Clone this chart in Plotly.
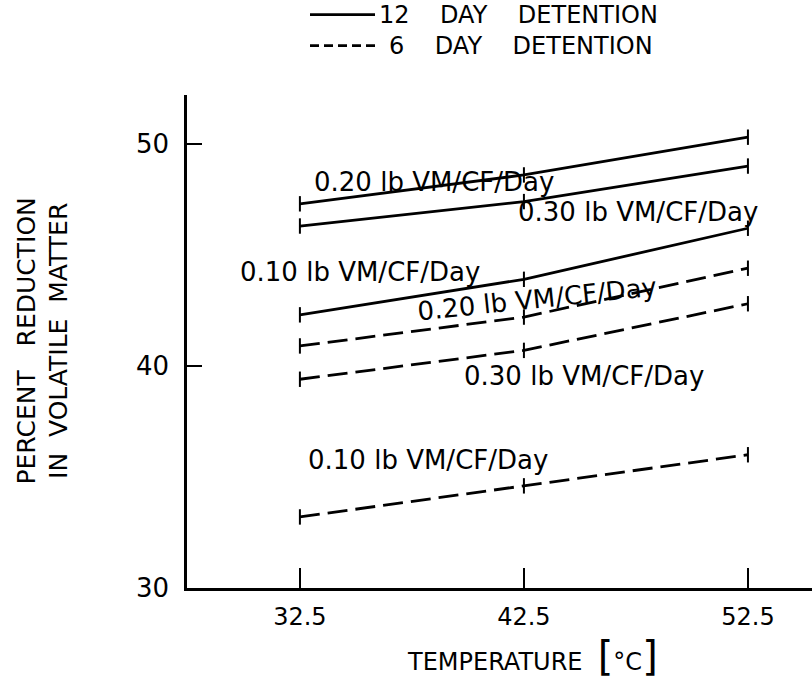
import plotly.graph_objects as go

# Digester temperature (°C) and percent reduction in volatile matter
temperature = [32.5, 42.5, 52.5]

# 12-day detention time, by loading rate (lb VM/CF/Day)
d12_load_020 = [47.3, 48.6, 50.3]
d12_load_030 = [46.3, 47.4, 49.0]
d12_load_010 = [42.3, 43.9, 46.2]

# 6-day detention time, by loading rate (lb VM/CF/Day)
d6_load_020 = [40.9, 42.2, 44.4]
d6_load_030 = [39.4, 40.7, 42.8]
d6_load_010 = [33.2, 34.6, 36.0]

x_tick_labels = ["32.5", "42.5", "52.5"]
y_tick_values = [30, 40, 50]

# Curve labels: text, anchor temperature, anchor percent, rotation
curve_labels = [
    ("0.20 lb VM/CF/Day", 38.5, 48.3, 0),
    ("0.30 lb VM/CF/Day", 47.6, 46.95, 0),
    ("0.10 lb VM/CF/Day", 35.2, 44.25, 0),
    ("0.20 lb VM/CF/Day", 43.1, 43.0, -6),
    ("0.30 lb VM/CF/Day", 45.2, 39.55, 0),
    ("0.10 lb VM/CF/Day", 38.2, 35.75, 0),
]

FONT = "DejaVu Sans"
INK = "black"
NB = "\u00a0"
SOLID_DASH = "solid"
SHORT_DASH = "20px,8px"

fig = go.Figure()

solid_series = [d12_load_020, d12_load_030, d12_load_010]
dashed_series = [d6_load_020, d6_load_030, d6_load_010]

for ys, dash in [(s, SOLID_DASH) for s in solid_series] + [(s, SHORT_DASH) for s in dashed_series]:
    fig.add_trace(go.Scatter(
        x=temperature, y=ys, mode="lines+markers",
        line=dict(color=INK, width=2.8, dash=dash),
        marker=dict(symbol="line-ns-open", size=11, line=dict(color=INK, width=2)),
        showlegend=False, hoverinfo="x+y",
    ))

for text, xv, yv, ang in curve_labels:
    fig.add_annotation(
        x=xv, y=yv, xref="x", yref="y", text=text, showarrow=False,
        textangle=ang, font=dict(family=FONT, size=26, color=INK),
    )

# Key above the plot: line sample + caption for each detention time
key_rows = [
    (1.163, "solid", "12" + NB * 4 + "DAY" + NB * 4 + "DETENTION", 0.3056),
    (1.1, "9px,5px", "6" + NB * 4 + "DAY" + NB * 4 + "DETENTION", 0.3216),
]
for yk, dash, caption, xt in key_rows:
    fig.add_shape(
        type="line", xref="paper", yref="paper",
        x0=0.1968, x1=0.3008, y0=yk, y1=yk,
        line=dict(color=INK, width=2.8, dash=dash),
    )
    fig.add_annotation(
        x=xt, y=yk, xref="paper", yref="paper", showarrow=False,
        xanchor="left", yanchor="middle", text=caption, borderpad=0,
        font=dict(family=FONT, size=24, color=INK),
    )

# Y-axis title in two rotated lines
fig.add_annotation(
    x=-0.232, y=0.5, xref="paper", yref="paper", showarrow=False,
    xanchor="center", yanchor="middle",
    textangle=-90, align="center",
    text=("PERCENT" + NB * 3 + "REDUCTION<br>"
          "IN" + NB * 2 + "VOLATILE" + NB * 2 + "MATTER"),
    font=dict(family=FONT, size=25, color=INK),
)

# X-axis title
fig.add_annotation(
    x=0.553, y=-0.138, xref="paper", yref="paper", showarrow=False,
    xanchor="center", yanchor="middle",
    text=("TEMPERATURE" + NB * 2 + "<span style='font-size:40px'>[</span>"
          "°C<span style='font-size:40px'>]</span>"),
    font=dict(family=FONT, size=24, color=INK),
)

fig.update_layout(
    width=812, height=690,
    margin=dict(l=187, r=0, t=95, b=102),
    paper_bgcolor="white", plot_bgcolor="white",
    font=dict(family=FONT, color=INK),
    showlegend=False,
    xaxis=dict(
        range=[27.46, 55.36], tickvals=temperature, ticktext=x_tick_labels,
        ticks="inside", ticklen=20, tickwidth=2, tickcolor=INK,
        showline=True, linecolor=INK, linewidth=2.5,
        showgrid=False, zeroline=False,
        tickfont=dict(family=FONT, size=24, color=INK),
        ticklabelstandoff=5,
    ),
    yaxis=dict(
        range=[30, 52.2], tickvals=y_tick_values,
        ticks="inside", ticklen=15, tickwidth=2, tickcolor=INK,
        showline=True, linecolor=INK, linewidth=2.5,
        showgrid=False, zeroline=False,
        tickfont=dict(family=FONT, size=26, color=INK),
        ticklabelstandoff=10,
    ),
)

fig.write_html("out.html")
